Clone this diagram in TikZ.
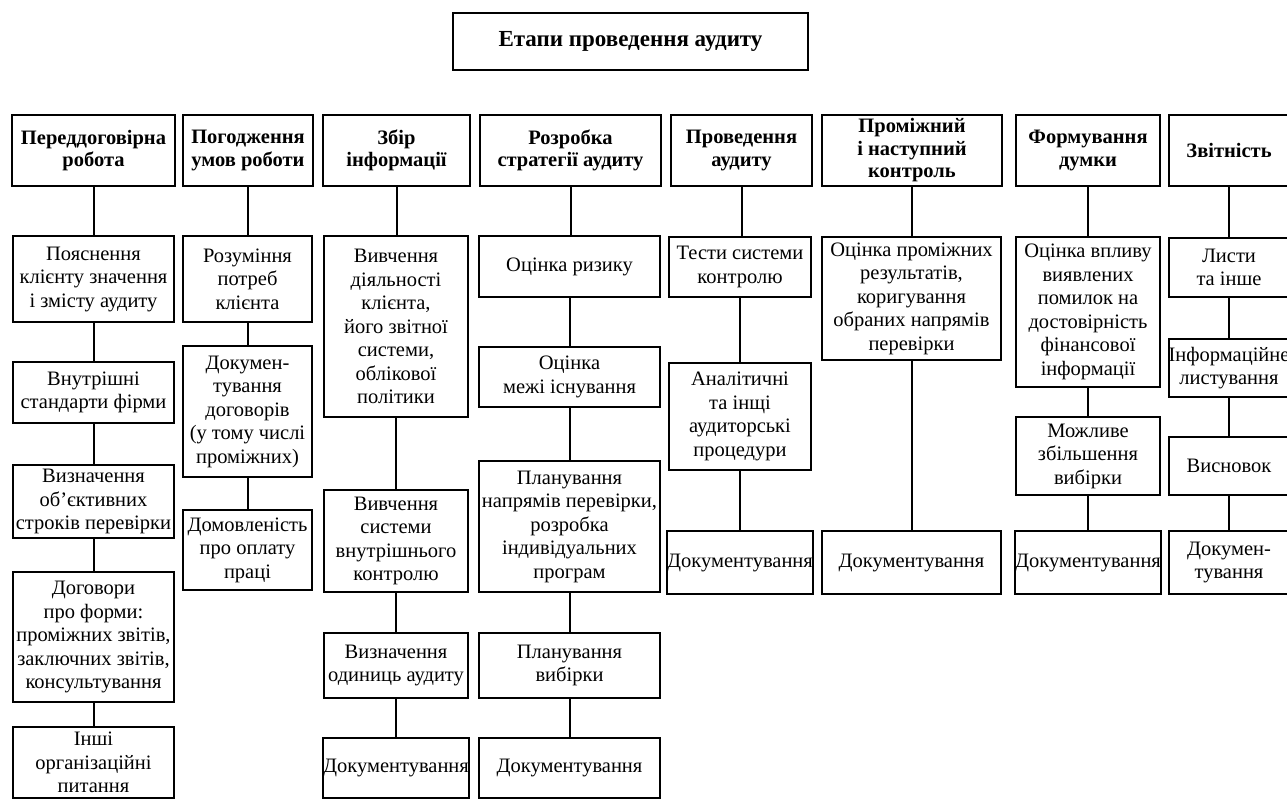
\documentclass[tikz,border=0pt]{standalone}
\usepackage{fontspec}
\setmainfont{Liberation Serif}

\tikzset{
  box/.style={draw, line width=2pt, align=center, inner xsep=0pt, inner ysep=2pt,
              font=\fontsize{20.5}{23.5}\selectfont},
  head/.style={box, font=\bfseries\fontsize{20.5}{22.5}\selectfont},
  titlebox/.style={box, font=\bfseries\fontsize{23}{26}\selectfont},
  link/.style={line width=2pt},
}

% \bx[style]{name}{x1}{y1}{x2}{y2}{text}: box given by its corners
\newcommand{\bx}[7][box]{%
  \pgfmathsetmacro{\bxw}{#5-#3}\pgfmathsetmacro{\bxh}{#6-#4}%
  \pgfmathsetmacro{\bxx}{(#3+#5)/2}\pgfmathsetmacro{\bxy}{(#4+#6)/2}%
  \node[#1, minimum width=\bxw pt, minimum height=\bxh pt] (#2) at (\bxx,\bxy) {#7};}

% vertical connector between two boxes of one column
\newcommand{\lk}[2]{\draw[link] (#1.south) -- (#1.south |- #2.north);}

\begin{document}
\begin{tikzpicture}[x=1pt,y=-1pt]
\useasboundingbox (0,0) rectangle (1287,801);
\clip (0,0) rectangle (1287,801);

\bx[titlebox]{title}{453}{13}{808}{70}{Етапи проведення аудиту}

% stage headers
\bx[head]{h1}{12}{115}{175}{186}{Переддоговірна\\робота}
\bx[head]{h2}{183}{115}{313}{186}{Погодження\\умов роботи}
\bx[head]{h3}{323}{115}{470}{186}{Збір\\інформації}
\bx[head]{h4}{480}{115}{661}{186}{Розробка\\стратегії аудиту}
\bx[head]{h5}{671}{115}{812}{186}{Проведення\\аудиту}
\bx[head]{h6}{822}{115}{1002}{186}{Проміжний\\і наступний\\контроль}
\bx[head]{h7}{1016}{115}{1160}{186}{Формування\\думки}
\bx[head]{h8}{1169}{115}{1289}{186}{Звітність}

% column 1
\bx{a1}{13}{236}{174}{322}{Пояснення\\клієнту значення\\і змісту аудиту}
\bx{a2}{13}{362}{174}{423}{Внутрішні\\стандарти фірми}
\bx{a3}{13}{465}{174}{538}{Визначення\\об’єктивних\\строків перевірки}
\bx{a4}{13}{572}{174}{702}{Договори\\про форми:\\проміжних звітів,\\заключних звітів,\\консультування}
\bx{a5}{13}{727}{174}{798}{Інші\\організаційні\\питання}

% column 2
\bx{b1}{183}{236}{312}{322}{Розуміння\\потреб\\клієнта}
\bx{b2}{183}{346}{312}{477}{Докумен-\\тування\\договорів\\(у тому числі\\проміжних)}
\bx{b3}{183}{510}{312}{590}{Домовленість\\про оплату\\праці}

% column 3
\bx{c1}{324}{236}{468}{417}{Вивчення\\діяльності\\клієнта,\\його звітної\\системи,\\облікової\\політики}
\bx{c2}{324}{490}{468}{592}{Вивчення\\системи\\внутрішнього\\контролю}
\bx{c3}{324}{633}{468}{698}{Визначення\\одиниць аудиту}
\bx{c4}{324}{738}{468}{798}{Документування}

% column 4
\bx{d1}{479}{236}{660}{297}{Оцінка ризику}
\bx{d2}{479}{347}{660}{407}{Оцінка\\межі існування}
\bx{d3}{479}{461}{660}{592}{Планування\\напрямів перевірки,\\розробка\\індивідуальних\\програм}
\bx{d4}{479}{633}{660}{698}{Планування\\вибірки}
\bx{d5}{479}{738}{660}{798}{Документування}

% column 5
\bx{e1}{669}{237}{811}{297}{Тести системи\\контролю}
\bx{e2}{669}{363}{811}{470}{Аналітичні\\та інщі\\аудиторські\\процедури}
\bx{e3}{669}{531}{811}{594}{Документування}

% column 6
\bx{f1}{822}{237}{1001}{360}{Оцінка проміжних\\результатів,\\коригування\\обраних напрямів\\перевірки}
\bx{f2}{822}{531}{1001}{594}{Документування}

% column 7
\bx{g1}{1016}{237}{1160}{387}{Оцінка впливу\\виявлених\\помилок на\\достовірність\\фінансової\\інформації}
\bx{g2}{1016}{417}{1160}{495}{Можливе\\збільшення\\вибірки}
\bx{g3}{1016}{531}{1160}{594}{Документування}

% column 8
\bx{k1}{1169}{238}{1289}{297}{Листи\\та інше}
\bx{k2}{1169}{339}{1289}{397}{Інформаційне\\листування}
\bx{k3}{1169}{437}{1289}{495}{Висновок}
\bx{k4}{1169}{531}{1289}{594}{Докумен-\\тування}

% connectors
\lk{h1}{a1}\lk{a1}{a2}\lk{a2}{a3}\lk{a3}{a4}\lk{a4}{a5}
\lk{h2}{b1}\lk{b1}{b2}\lk{b2}{b3}
\lk{h3}{c1}\lk{c1}{c2}\lk{c2}{c3}\lk{c3}{c4}
\lk{h4}{d1}\lk{d1}{d2}\lk{d2}{d3}\lk{d3}{d4}\lk{d4}{d5}
\lk{h5}{e1}\lk{e1}{e2}\lk{e2}{e3}
\lk{h6}{f1}\lk{f1}{f2}
\lk{h7}{g1}\lk{g1}{g2}\lk{g2}{g3}
\lk{h8}{k1}\lk{k1}{k2}\lk{k2}{k3}\lk{k3}{k4}
\end{tikzpicture}
\end{document}
